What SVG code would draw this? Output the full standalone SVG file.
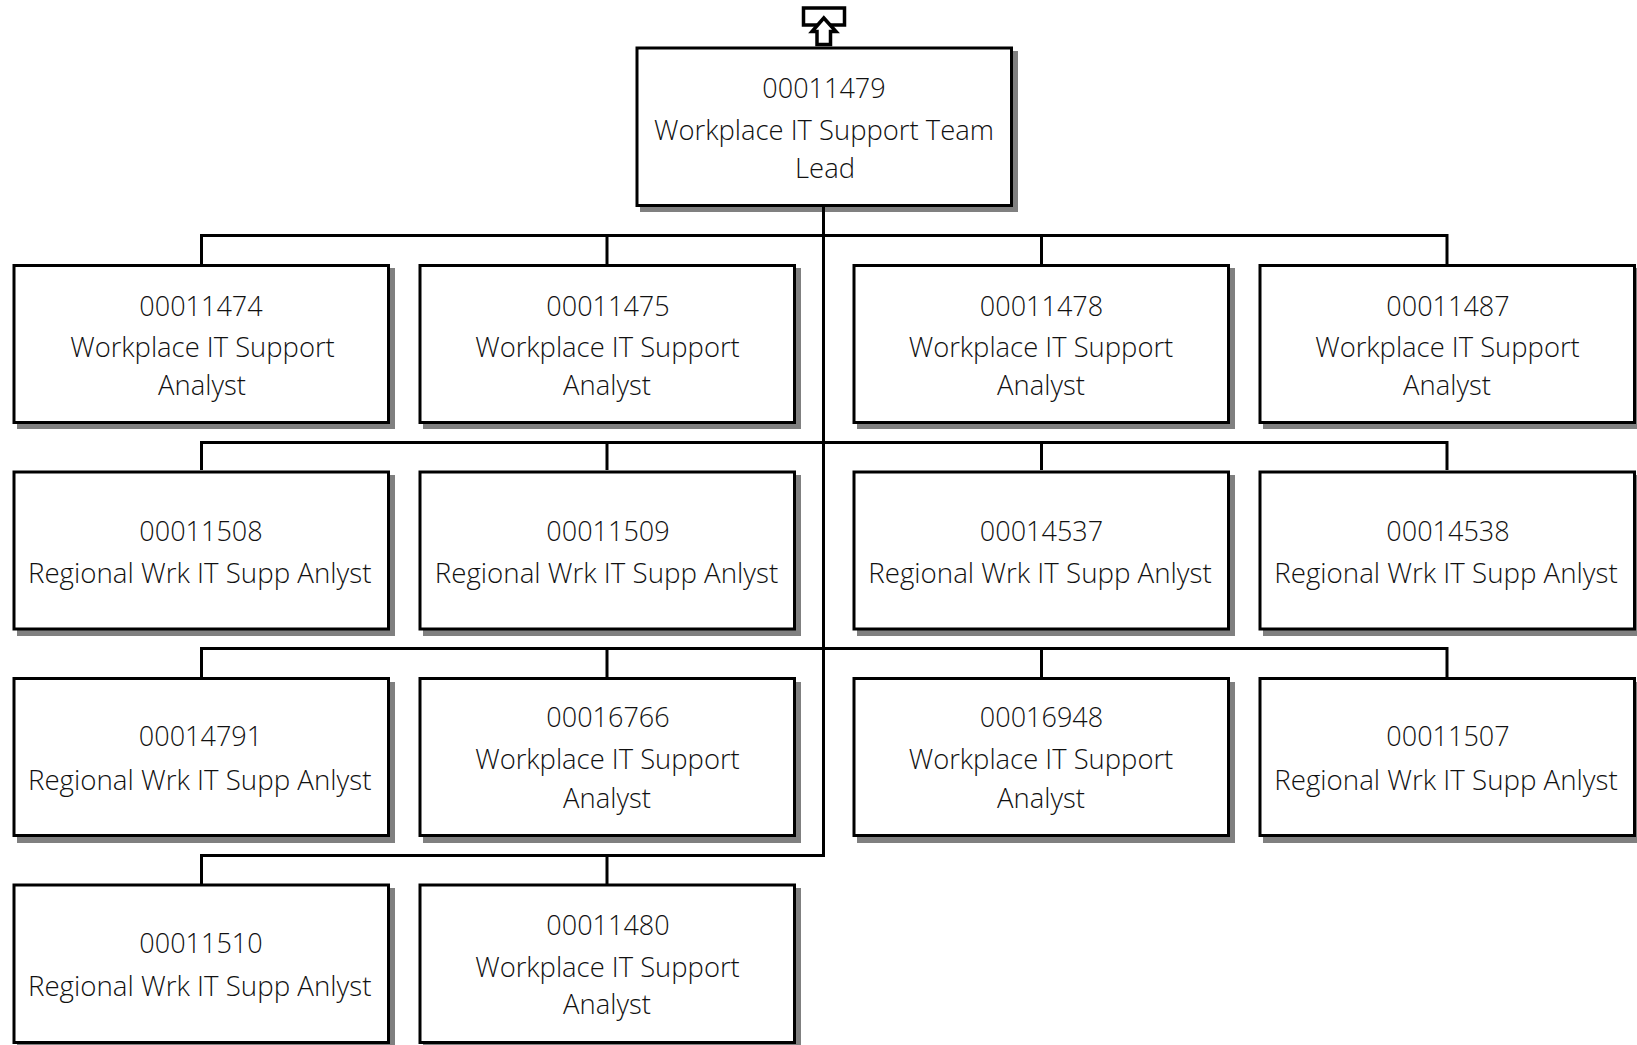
<svg xmlns="http://www.w3.org/2000/svg" width="1637" height="1045" viewBox="0 0 1637 1045">
<style>
.s{fill:#808080}
.b{fill:#fff;stroke:#000;stroke-width:3}
.i{fill:#fff;stroke:#000;stroke-width:3.5}
.c{fill:none;stroke:#000;stroke-width:3}
text{font-family:"Open Sans","Liberation Sans",sans-serif;font-weight:300;font-size:27.4px;fill:#111;text-anchor:middle}
.d{font-size:27px}
.r{font-size:27.7px}
</style>
<rect width="1637" height="1045" fill="#fff"/>
<g id="up-icon">
<rect class="i" x="803.500" y="8" width="41" height="17"/>
<path class="i" d="M817 44.500V31.500H812L823.800 18L836 31.500H830.500V44.500Z"/>
</g>
<g id="n00011479"><rect class="s" x="640" y="51" width="378" height="161"/><rect class="b" x="637" y="48" width="374.500" height="157.500"/><text class="d" x="824" y="98">00011479</text><text x="824" y="139.500">Workplace IT Support Team</text><text x="825" y="178">Lead</text></g>
<g id="n00011474"><rect class="s" x="17" y="268" width="378" height="161"/><rect class="b" x="14" y="265.500" width="374.500" height="157"/><text class="d" x="201" y="316">00011474</text><text x="202.500" y="357">Workplace IT Support</text><text x="202" y="395">Analyst</text></g>
<g id="n00011475"><rect class="s" x="423" y="268" width="378" height="161"/><rect class="b" x="420" y="265.500" width="374.500" height="157"/><text class="d" x="608" y="316">00011475</text><text x="607.500" y="357">Workplace IT Support</text><text x="607" y="395">Analyst</text></g>
<g id="n00011478"><rect class="s" x="857" y="268" width="378" height="161"/><rect class="b" x="854" y="265.500" width="374.500" height="157"/><text class="d" x="1041.500" y="316">00011478</text><text x="1041" y="357">Workplace IT Support</text><text x="1041" y="395">Analyst</text></g>
<g id="n00011487"><rect class="s" x="1263" y="268" width="378" height="161"/><rect class="b" x="1260" y="265.500" width="374.500" height="157"/><text class="d" x="1448" y="316">00011487</text><text x="1447.500" y="357">Workplace IT Support</text><text x="1447" y="395">Analyst</text></g>
<g id="n00011508"><rect class="s" x="17" y="475" width="378" height="161"/><rect class="b" x="14" y="472" width="374.500" height="157"/><text class="d" x="201" y="541">00011508</text><text class="r" x="199.700" y="582.500">Regional Wrk IT Supp Anlyst</text></g>
<g id="n00011509"><rect class="s" x="423" y="475" width="378" height="161"/><rect class="b" x="420" y="472" width="374.500" height="157"/><text class="d" x="608" y="541">00011509</text><text class="r" x="606.500" y="582.500">Regional Wrk IT Supp Anlyst</text></g>
<g id="n00014537"><rect class="s" x="857" y="475" width="378" height="161"/><rect class="b" x="854" y="472" width="374.500" height="157"/><text class="d" x="1041.500" y="541">00014537</text><text class="r" x="1040" y="582.500">Regional Wrk IT Supp Anlyst</text></g>
<g id="n00014538"><rect class="s" x="1263" y="475" width="378" height="161"/><rect class="b" x="1260" y="472" width="374.500" height="157"/><text class="d" x="1448" y="541">00014538</text><text class="r" x="1446" y="582.500">Regional Wrk IT Supp Anlyst</text></g>
<g id="n00014791"><rect class="s" x="17" y="682" width="378" height="161"/><rect class="b" x="14" y="678.500" width="374.500" height="157"/><text class="d" x="200.500" y="746">00014791</text><text class="r" x="199.700" y="789.500">Regional Wrk IT Supp Anlyst</text></g>
<g id="n00016766"><rect class="s" x="423" y="682" width="378" height="161"/><rect class="b" x="420" y="678.500" width="374.500" height="157"/><text class="d" x="608" y="727">00016766</text><text x="607.500" y="769">Workplace IT Support</text><text x="607" y="808">Analyst</text></g>
<g id="n00016948"><rect class="s" x="857" y="682" width="378" height="161"/><rect class="b" x="854" y="678.500" width="374.500" height="157"/><text class="d" x="1041.500" y="727">00016948</text><text x="1041" y="769">Workplace IT Support</text><text x="1041" y="808">Analyst</text></g>
<g id="n00011507"><rect class="s" x="1263" y="682" width="378" height="161"/><rect class="b" x="1260" y="678.500" width="374.500" height="157"/><text class="d" x="1448" y="746">00011507</text><text class="r" x="1446" y="789.500">Regional Wrk IT Supp Anlyst</text></g>
<g id="n00011510"><rect class="s" x="17" y="888" width="378" height="161"/><rect class="b" x="14" y="885" width="374.500" height="157.500"/><text class="d" x="201" y="952.500">00011510</text><text class="r" x="199.700" y="996">Regional Wrk IT Supp Anlyst</text></g>
<g id="n00011480"><rect class="s" x="423" y="888" width="378" height="161"/><rect class="b" x="420" y="885" width="374.500" height="157.500"/><text class="d" x="608" y="935">00011480</text><text x="607.500" y="977">Workplace IT Support</text><text x="607" y="1014">Analyst</text></g>
<g id="connectors">
<path class="c" d="M823.500 206V857M201.500 264V235.500H1447V264M607 235.500V264M1041.500 235.500V264"/>
<path class="c" d="M201.500 470V442.500H1447V470M607 442.500V470M1041.500 442.500V470"/>
<path class="c" d="M201.500 677V648.500H1447V677M607 648.500V677M1041.500 648.500V677"/>
<path class="c" d="M201.500 884V855.500H825M607 855.500V884"/>
</g>
</svg>
